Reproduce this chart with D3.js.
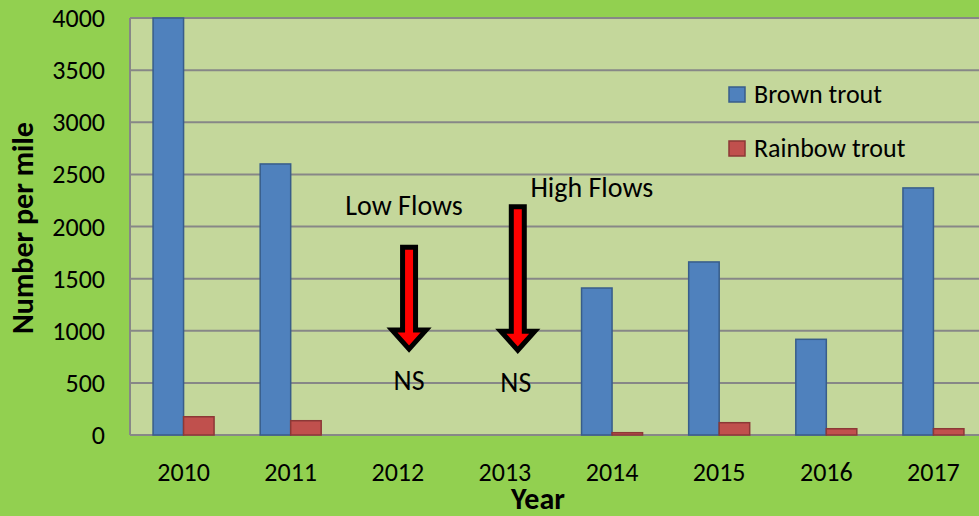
<!DOCTYPE html>
<html>
<head>
<meta charset="utf-8">
<script src="https://cdn.jsdelivr.net/npm/d3@7"></script>
<style>
  html, body { margin: 0; padding: 0; background: #92d050; }
  svg { display: block; font-family: Carlito, Lato, "Open Sans", sans-serif; }
</style>
</head>
<body>
<div id="chart"></div>
<script>
"use strict"

// chart data
const years = ["2010", "2011", "2012", "2013", "2014", "2015", "2016", "2017"];
const brownTrout = [4000, 2600, null, null, 1410, 1660, 918, 2370];
const rainbowTrout = [175, 137, null, null, 22, 118, 60, 60];
const yTicks = [0, 500, 1000, 1500, 2000, 2500, 3000, 3500, 4000];
const seriesNames = ["Brown trout", "Rainbow trout"];

// flow annotations (not sampled years)
const noteYears = ["2012", "2013"];
const noteLabels = ["Low Flows", "High Flows"];
const noteText = ["NS", "NS"];
const arrowTop = [1800, 2190];
const arrowTip = [795, 785];

let width = 979, height = 516;
let margin = { left: 130, top: 18, right: -8, bottom: 81 };

let svg = d3.select("#chart").append("svg")
    .attr("width", width)
    .attr("height", height);

svg.append("rect")
    .attr("width", width)
    .attr("height", height)
    .style("fill", "#92d050");

let x = d3.scaleBand()
    .domain(years)
    .range([margin.left, width - margin.right]);

let xSub = d3.scaleBand()
    .domain(seriesNames)
    .range([0, x.bandwidth()])
    .paddingOuter(0.756);

let y = d3.scaleLinear()
    .domain([0, 4000])
    .range([height - margin.bottom, margin.top]);

let colors = { "Brown trout": "#4f81bd", "Rainbow trout": "#c0504d" };
let borders = { "Brown trout": "#385d8a", "Rainbow trout": "#8c3836" };

// plot area
svg.append("rect")
    .attr("x", margin.left)
    .attr("y", y(4000))
    .attr("width", width - margin.left - margin.right)
    .attr("height", y(0) - y(4000))
    .style("fill", "#c4d79b");

// gridlines
svg.selectAll(".grid")
    .data(yTicks)
    .enter().append("line")
    .attr("class", "grid")
    .attr("x1", margin.left)
    .attr("x2", width)
    .attr("y1", d => y(d))
    .attr("y2", d => y(d))
    .style("stroke", "#878787")
    .style("stroke-width", "2px");

svg.append("line")
    .attr("x1", margin.left)
    .attr("x2", margin.left)
    .attr("y1", y(4000))
    .attr("y2", y(0))
    .style("stroke", "#878787")
    .style("stroke-width", "2px");

// bars
let seriesData = [brownTrout, rainbowTrout];
seriesNames.forEach(function(name, s) {
    let rows = years.map((yr, i) => ({ year: yr, value: seriesData[s][i] }))
        .filter(d => d.value !== null);
    svg.selectAll(".bar" + s)
        .data(rows)
        .enter().append("rect")
        .attr("class", "bar" + s)
        .attr("x", d => x(d.year) + xSub(name))
        .attr("y", d => y(d.value))
        .attr("width", xSub.bandwidth())
        .attr("height", d => y(0) - y(d.value))
        .style("fill", colors[name])
        .style("stroke", borders[name])
        .style("stroke-width", "1.5px");
});

// y tick labels
svg.selectAll(".ytick")
    .data(yTicks)
    .enter().append("text")
    .attr("class", "ytick")
    .attr("x", 105)
    .attr("y", d => y(d))
    .attr("dy", "0.35em")
    .attr("text-anchor", "end")
    .style("font-size", "26px")
    .text(d => d);

// x tick labels
svg.selectAll(".xtick")
    .data(years)
    .enter().append("text")
    .attr("class", "xtick")
    .attr("x", d => x(d) + x.bandwidth() / 2)
    .attr("y", 481)
    .attr("text-anchor", "middle")
    .style("font-size", "26px")
    .text(d => d);

// axis titles
svg.append("text")
    .attr("transform", "translate(33,228) rotate(-90)")
    .attr("text-anchor", "middle")
    .style("font-size", "30px")
    .style("font-weight", "bold")
    .text("Number per mile");

svg.append("text")
    .attr("x", 538)
    .attr("y", 509)
    .attr("text-anchor", "middle")
    .style("font-size", "30px")
    .style("font-weight", "bold")
    .text("Year");

// legend
let legend = svg.selectAll(".legend")
    .data(seriesNames)
    .enter().append("g")
    .attr("class", "legend")
    .attr("transform", (d, i) => "translate(729," + (87 + i * 54) + ")");

legend.append("rect")
    .attr("width", 16)
    .attr("height", 15)
    .style("fill", d => colors[d])
    .style("stroke", d => borders[d])
    .style("stroke-width", "1.5px");

legend.append("text")
    .attr("x", 25)
    .attr("y", 16)
    .style("font-size", "26px")
    .text(d => d);

// flow arrows and labels
let arrowOffset = [0.605, 0.62];
let labelShift = [-5, 74];
let arrowPath = function(cx, top, tip) {
    let hw = 6.5, headW = 17, headH = 19;
    let base = tip - headH;
    return d3.line()([
        [cx - hw, top], [cx + hw, top], [cx + hw, base], [cx + headW, base],
        [cx, tip], [cx - headW, base], [cx - hw, base]
    ]) + "Z";
};

noteYears.forEach(function(yr, i) {
    let cx = x(yr) + x.bandwidth() * arrowOffset[i];
    svg.append("path")
        .attr("d", arrowPath(cx, y(arrowTop[i]), y(arrowTip[i]) - 3))
        .style("fill", "#ff0000")
        .style("stroke", "#000")
        .style("stroke-width", "5px")
        .style("stroke-linejoin", "miter");

    svg.append("text")
        .attr("x", cx + labelShift[i])
        .attr("y", i === 0 ? 215 : 197)
        .attr("text-anchor", "middle")
        .style("font-size", "28px")
        .text(noteLabels[i]);

    svg.append("text")
        .attr("x", cx - 2 * i)
        .attr("y", 390 + 2 * i)
        .attr("text-anchor", "middle")
        .style("font-size", "28px")
        .text(noteText[i]);
});
</script>
</body>
</html>
